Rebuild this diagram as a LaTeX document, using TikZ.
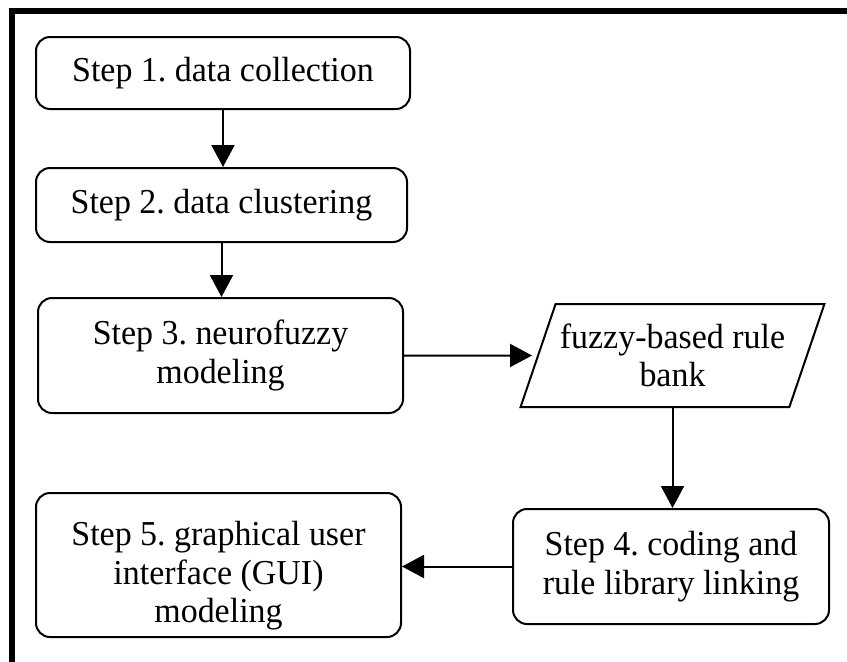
\documentclass[tikz,border=0pt]{standalone}
\usepackage{fontspec}
\setmainfont{Liberation Serif}[FakeStretch=0.97]
\usetikzlibrary{arrows.meta,shapes.geometric}

\tikzset{
  stepbox/.style={draw=black, line width=2pt, rounded corners=14pt,
    inner sep=0pt, align=center,
    font=\fontsize{35}{38.5}\selectfont\frenchspacing},
  databox/.style={draw=black, line width=2pt, trapezium,
    trapezium left angle=62, trapezium right angle=118,
    trapezium stretches=true, inner sep=0pt, align=center,
    font=\fontsize{35}{38.5}\selectfont\frenchspacing},
  flow/.style={line width=2pt, -{Triangle[length=22pt,width=23pt]}},
  frameline/.style={line width=6pt, line cap=rect}
}

\begin{document}
\begin{tikzpicture}[x=1pt, y=-1pt]
  \useasboundingbox (0,0) rectangle (847,662);
  \fill[white] (0,0) rectangle (847,662);

  % outer frame: top and left edges only
  \coordinate (fb) at (11.5,10.5);
  \draw[frameline] (11.5,662) -- (fb) -- (847,10.5);

  % process steps
  \node[stepbox, minimum width=374pt, minimum height=72pt]  (s1) at (223,73)      {Step 1. data collection};
  \node[stepbox, minimum width=371pt, minimum height=74pt]  (s2) at (221.5,205)   {Step 2. data clustering};
  \node[stepbox, minimum width=365pt, minimum height=115pt] (s3) at (220.5,355.5) {Step 3. neurofuzzy\\modeling};
  \node[databox, minimum width=305pt, minimum height=103pt] (bank) at (672.5,355.5) {fuzzy-based rule\\bank};
  \node[stepbox, minimum width=316pt, minimum height=115pt] (s4) at (671,566.5)   {Step 4. coding and\\rule library linking};
  \node[stepbox, minimum width=365pt, minimum height=144pt] (s5) at (218.5,565)
    {\rule{0pt}{46pt}Step 5. graphical user\\interface (GUI)\\modeling};

  % connectors
  \draw[flow] (s1.south) -- (s1.south |- s2.north);
  \draw[flow] (s2.south) -- (s2.south |- s3.north);
  \draw[flow, shorten >=5pt] (s3.east) -- (bank.west);
  \draw[flow] (bank.south) -- (bank.south |- s4.north);
  \draw[flow] (s4.west) -- (s4.west -| s5.east);
\end{tikzpicture}
\end{document}
